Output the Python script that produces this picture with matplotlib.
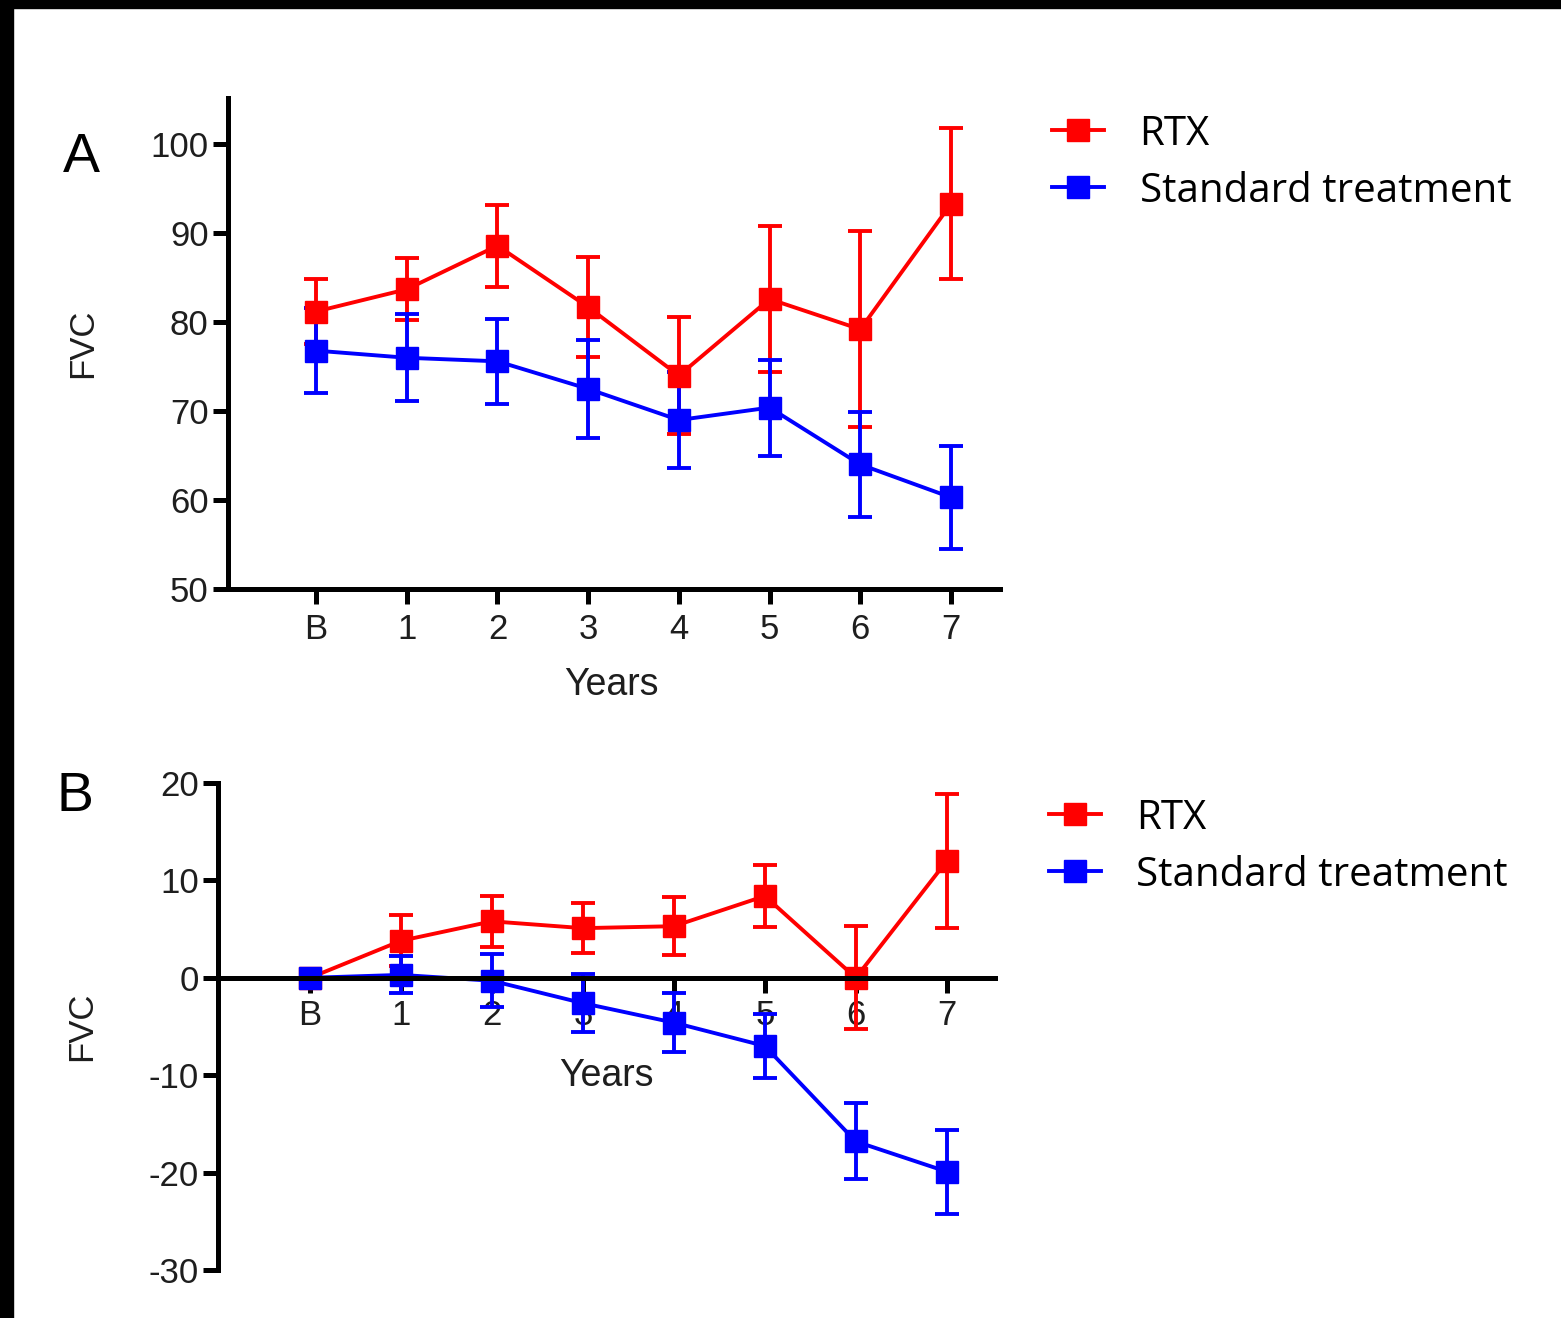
import numpy as np
import matplotlib.pyplot as plt
from matplotlib.lines import Line2D
from matplotlib.patches import Rectangle

plt.rcParams['font.family'] = ['Liberation Sans', 'DejaVu Sans']
plt.rcParams['axes.unicode_minus'] = False

years = ['B', '1', '2', '3', '4', '5', '6', '7']

# panel A: absolute FVC
rtx_fvc = [81.2, 83.7, 88.6, 81.7, 74.0, 82.6, 79.2, 93.3]
rtx_fvc_err = [3.6, 3.5, 4.6, 5.6, 6.6, 8.2, 11.0, 8.5]
std_fvc = [76.8, 76.0, 75.6, 72.5, 69.0, 70.4, 64.0, 60.3]
std_fvc_err = [4.8, 4.9, 4.8, 5.5, 5.4, 5.4, 5.9, 5.8]

# panel B: change in FVC from baseline
rtx_change = [0.0, 3.8, 5.8, 5.1, 5.3, 8.4, 0.0, 12.0]
rtx_change_err = [0.0, 2.6, 2.6, 2.6, 3.0, 3.2, 5.3, 6.9]
std_change = [0.0, 0.3, -0.3, -2.6, -4.6, -7.0, -16.8, -19.9]
std_change_err = [0.0, 1.9, 2.7, 3.0, 3.0, 3.3, 3.9, 4.3]

RED = '#ff0000'
BLUE = '#0000ff'
TEXT = '#1e1e1e'


def draw_panel(ax, rtx, rtx_err, std, std_err):
    x = np.arange(len(years))
    for y, err, color in [(rtx, rtx_err, RED), (std, std_err, BLUE)]:
        ax.errorbar(x, y, yerr=err, color=color, marker='s', markersize=16,
                    lw=2.8, elinewidth=2.8, capsize=8.5, capthick=2.8)
    ax.set_xticks(x)
    ax.set_xticklabels(years)
    for side in ['top', 'right']:
        ax.spines[side].set_visible(False)
    for side in ['left', 'bottom']:
        ax.spines[side].set_linewidth(3.6)
    ax.tick_params(length=11, width=3.6, labelsize=25, labelcolor=TEXT, pad=3)
    ax.set_ylabel('FVC', fontsize=25, color=TEXT)
    ax.set_xlabel('Years', fontsize=27, color=TEXT)
    ax.xaxis.label.set_va('center')
    ax.yaxis.label.set_va('center')


def add_legend(fig, anchor):
    handles = [Line2D([], [], color=RED, lw=2.8, marker='s', markersize=16),
               Line2D([], [], color=BLUE, lw=2.8, marker='s', markersize=16)]
    fig.legend(handles, ['RTX', 'Standard treatment'], loc='upper left',
               bbox_to_anchor=anchor, frameon=False, borderpad=0,
               borderaxespad=0, handlelength=1.3, handletextpad=0.87,
               labelspacing=0.41, prop={'family': 'Open Sans', 'size': 29})


fig = plt.figure(figsize=(15.61, 13.18), dpi=100)

# panel A
axA = fig.add_axes([0.1461, 0.5531, 0.4945, 0.3725])
draw_panel(axA, rtx_fvc, rtx_fvc_err, std_fvc, std_fvc_err)
axA.set_xlim(-0.97, 7.54)
axA.set_ylim(50, 105.2)
axA.set_yticks([50, 60, 70, 80, 90, 100])
axA.tick_params(axis='x', pad=6)
axA.yaxis.set_label_coords(-0.189, 0.5)
axA.xaxis.set_label_coords(0.497, -0.196)
add_legend(fig, (0.674, 0.9135))
fig.text(0.052, 0.880, 'A', fontsize=40, ha='center', va='center')

# panel B
axB = fig.add_axes([0.1397, 0.0364, 0.4977, 0.3695])
draw_panel(axB, rtx_change, rtx_change_err, std_change, std_change_err)
axB.set_xlim(-1.01, 7.53)
axB.set_ylim(-30, 20)
axB.set_yticks([-30, -20, -10, 0, 10, 20])
axB.spines['bottom'].set_position(('data', 0))
axB.tick_params(axis='x', pad=4)
axB.yaxis.set_label_coords(-0.175, 0.5)
axB.xaxis.set_label_coords(0.5, 0.399)
add_legend(fig, (0.672, 0.3945))
fig.text(0.048, 0.395, 'B', fontsize=40, ha='center', va='center')

# black scan border along top and left edges
fig.patches.append(Rectangle((0, 1 - 8 / 1318), 1, 8 / 1318, transform=fig.transFigure,
                             color='black', zorder=10))
fig.patches.append(Rectangle((0, 0), 13 / 1561, 1, transform=fig.transFigure,
                             color='black', zorder=10))

fig.savefig('out.png', dpi=100)
